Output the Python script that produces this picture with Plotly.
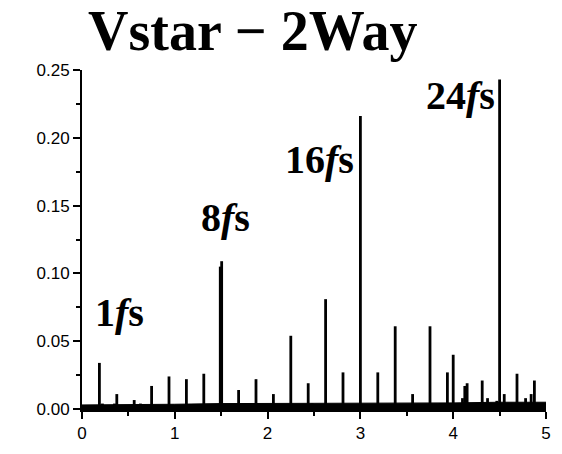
import plotly.graph_objects as go

# Spectral lines: frequency position and amplitude
peak_freq = [0.1875, 0.22, 0.35, 0.375, 0.5625, 0.63, 0.75, 0.9375, 1.0, 1.125,
             1.28, 1.3125, 1.49, 1.505, 1.6875, 1.875, 2.0625, 2.25, 2.4375, 2.48,
             2.625, 2.67, 2.8125, 3.0, 3.1875, 3.375, 3.42, 3.5625, 3.60, 3.75,
             3.90, 3.9375, 4.0, 4.06, 4.10, 4.125, 4.15, 4.23, 4.3125, 4.37,
             4.47, 4.5, 4.55, 4.60, 4.6875, 4.74, 4.78, 4.84, 4.875]
peak_amp = [0.034, 0.004, 0.004, 0.011, 0.0066, 0.004, 0.017, 0.024, 0.002, 0.022,
            0.003, 0.026, 0.105, 0.109, 0.014, 0.022, 0.011, 0.054, 0.019, 0.004,
            0.081, 0.002, 0.027, 0.216, 0.027, 0.061, 0.002, 0.011, 0.003, 0.061,
            0.003, 0.027, 0.040, 0.003, 0.008, 0.017, 0.019, 0.003, 0.021, 0.008,
            0.006, 0.243, 0.011, 0.003, 0.026, 0.003, 0.008, 0.011, 0.021]

# Broadband noise floor
floor_freq = [0.0, 0.5, 1.0, 1.5, 2.0, 2.5, 3.0, 3.5, 4.0, 4.5, 5.0]
floor_amp = [0.003, 0.003, 0.0035, 0.004, 0.004, 0.004, 0.004, 0.004, 0.0045, 0.005, 0.005]

# Harmonic labels
harm_text = ["1", "8", "16", "24"]
harm_x = [0.40, 1.55, 2.56, 4.075]
harm_y = [0.071, 0.141, 0.184, 0.231]

stem_x, stem_y = [], []
for f, a in zip(peak_freq, peak_amp):
    stem_x += [f, f, None]
    stem_y += [0, a, None]

fig = go.Figure()
fig.add_trace(go.Scatter(x=floor_freq, y=floor_amp, mode="lines", fill="tozeroy",
                         fillcolor="black", line=dict(color="black", width=1),
                         hoverinfo="skip", showlegend=False))
fig.add_trace(go.Scatter(x=stem_x, y=stem_y, mode="lines",
                         line=dict(color="black", width=2.8),
                         showlegend=False))

for t, x, y in zip(harm_text, harm_x, harm_y):
    fig.add_annotation(x=x, y=y, xref="x", yref="y", showarrow=False,
                       text=f"<b>{t}<i>f</i>s</b>",
                       font=dict(family="Liberation Serif", size=40, color="black"),
                       xanchor="center", yanchor="middle")

fig.add_annotation(x=0.369, y=1.0, xref="paper", yref="paper", yanchor="bottom",
                   xanchor="center", showarrow=False, yshift=6,
                   text="<b>Vstar − 2Way</b>",
                   font=dict(family="Liberation Serif", size=56, color="black"))

tick_font = dict(family="Liberation Sans", size=17, color="black")
fig.update_xaxes(range=[0, 5], tickvals=[0, 1, 2, 3, 4, 5], ticks="outside",
                 ticklen=7, tickwidth=2, tickcolor="black", showline=True,
                 linecolor="black", linewidth=3, showgrid=False, zeroline=False,
                 tickfont=tick_font,
                 minor=dict(tickvals=[0.5, 1.5, 2.5, 3.5, 4.5], ticks="outside",
                            ticklen=4, tickwidth=2, tickcolor="black"))
fig.update_yaxes(range=[0, 0.25], tickvals=[0, 0.05, 0.10, 0.15, 0.20, 0.25],
                 ticktext=["0.00", "0.05", "0.10", "0.15", "0.20", "0.25"],
                 ticks="outside", ticklen=7, tickwidth=2, tickcolor="black",
                 showline=True, linecolor="black", linewidth=2, showgrid=False,
                 zeroline=False, tickfont=tick_font,
                 minor=dict(tickvals=[0.025, 0.075, 0.125, 0.175, 0.225],
                            ticks="outside", ticklen=4, tickwidth=2,
                            tickcolor="black"))

fig.update_layout(width=562, height=454, margin=dict(l=82, r=11, t=70, b=42),
                  plot_bgcolor="white", paper_bgcolor="white")
fig.write_html("out.html")
